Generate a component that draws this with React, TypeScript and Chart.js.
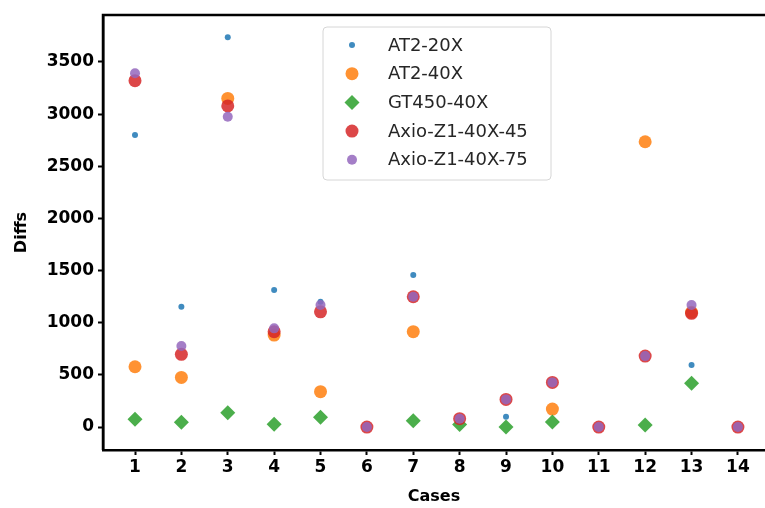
import React, { useEffect, useRef } from "react";
import { Chart, registerables } from "chart.js";

Chart.register(...registerables);

const cases = [1, 2, 3, 4, 5, 6, 7, 8, 9, 10, 11, 12, 13, 14];
const yTicks = [0, 500, 1000, 1500, 2000, 2500, 3000, 3500];

const seriesNames = ["AT2-20X", "AT2-40X", "GT450-40X", "Axio-Z1-40X-45", "Axio-Z1-40X-75"];

const at2_20x = [2800, 1153, 3736, 1313, 1201, null, 1457, null, 99, null, null, null, 594, null];
const at2_40x = [578, 476, 3150, 882, 339, null, 914, null, null, 172, null, 2735, 1100, null];
const gt450_40x = [74, 45, 137, 26, 93, null, 61, 25, 0, 48, null, 19, 419, null];
const axio_45 = [3320, 697, 3078, 914, 1105, 0, 1249, 80, 265, 428, 0, 680, 1090, 0];
const axio_75 = [3391, 777, 2975, 946, 1170, 0, 1249, 80, 265, 428, 0, 680, 1170, 0];

const seriesValues = [at2_20x, at2_40x, gt450_40x, axio_45, axio_75];
const seriesColors = [
  "rgba(31,119,180,0.85)",
  "rgba(255,127,14,0.85)",
  "rgba(44,160,44,0.85)",
  "rgba(214,39,40,0.85)",
  "rgba(148,103,189,0.85)",
];
const seriesStyles = ["circle", "circle", "rectRot", "circle", "circle"];
const seriesRadius = [3, 6.5, 7.5, 6.5, 5];

const W = 765;
const H = 508;

const legendPlugin = {
  id: "customLegendFrame",
  afterDraw(chart: any) {
    const { ctx, chartArea } = chart;
    ctx.save();
    ctx.strokeStyle = "#000";
    ctx.lineWidth = 2.5;
    ctx.beginPath();
    ctx.moveTo(chartArea.left, chartArea.bottom);
    ctx.lineTo(chartArea.left, chartArea.top);
    ctx.lineTo(chart.width, chartArea.top);
    ctx.stroke();
    const bx = 323, by = 27, bw = 228, bh = 153, r = 4;
    ctx.beginPath();
    ctx.moveTo(bx + r, by);
    ctx.lineTo(bx + bw - r, by);
    ctx.quadraticCurveTo(bx + bw, by, bx + bw, by + r);
    ctx.lineTo(bx + bw, by + bh - r);
    ctx.quadraticCurveTo(bx + bw, by + bh, bx + bw - r, by + bh);
    ctx.lineTo(bx + r, by + bh);
    ctx.quadraticCurveTo(bx, by + bh, bx, by + bh - r);
    ctx.lineTo(bx, by + r);
    ctx.quadraticCurveTo(bx, by, bx + r, by);
    ctx.closePath();
    ctx.fillStyle = "rgba(255,255,255,0.8)";
    ctx.fill();
    ctx.strokeStyle = "#d6d6d6";
    ctx.lineWidth = 1;
    ctx.stroke();
    ctx.font = '18px "DejaVu Sans"';
    ctx.textBaseline = "middle";
    ctx.textAlign = "left";
    seriesNames.forEach((name, i) => {
      const y = 45 + i * 28.7;
      const x = 352;
      ctx.fillStyle = seriesColors[i];
      const rad = seriesRadius[i];
      ctx.beginPath();
      if (seriesStyles[i] === "rectRot") {
        ctx.moveTo(x, y - rad);
        ctx.lineTo(x + rad, y);
        ctx.lineTo(x, y + rad);
        ctx.lineTo(x - rad, y);
        ctx.closePath();
      } else {
        ctx.arc(x, y, rad, 0, Math.PI * 2);
      }
      ctx.fill();
      ctx.fillStyle = "#262626";
      ctx.fillText(name, 388, y + 1);
    });
    ctx.restore();
  },
};

export default function App() {
  const canvasRef = useRef<HTMLCanvasElement | null>(null);

  useEffect(() => {
    if (!canvasRef.current) return;
    const datasets = seriesNames.map((name, i) => ({
      label: name,
      data: cases
        .map((c, j) => ({ x: c, y: seriesValues[i][j] }))
        .filter((p) => p.y !== null),
      backgroundColor: seriesColors[i],
      borderWidth: 0,
      pointStyle: seriesStyles[i],
      pointRadius: seriesRadius[i],
      order: 5 - i,
    }));
    const chart = new Chart(canvasRef.current, {
      type: "scatter",
      data: { datasets: datasets as any },
      options: {
        animation: false,
        responsive: false,
        devicePixelRatio: 1,
        layout: { autoPadding: false, padding: { top: 15, right: 0, left: 0, bottom: 0 } },
        plugins: { legend: { display: false }, tooltip: { enabled: false } },
        scales: {
          x: {
            type: "linear",
            min: 0.31,
            max: 14.584,
            afterBuildTicks: (s: any) => {
              s.ticks = cases.map((v) => ({ value: v }));
            },
            afterFit: (s: any) => {
              s.height = 58;
              s.paddingRight = 0;
              s.paddingLeft = 0;
            },
            grid: { drawOnChartArea: false, drawTicks: true, tickLength: 5, tickWidth: 2, color: "#000" },
            border: { display: true, color: "#000", width: 2.5 },
            ticks: {
              color: "#000",
              padding: 2,
              maxRotation: 0,
              autoSkip: false,
              font: { family: '"DejaVu Sans"', size: 17, weight: "bold" },
              callback: (v: any) => String(v),
            },
            title: {
              display: true,
              text: "Cases",
              color: "#000",
              padding: { top: 2, bottom: 2 },
              font: { family: '"DejaVu Sans"', size: 16, weight: "bold" },
            },
          },
          y: {
            type: "linear",
            min: -220,
            max: 3950,
            afterBuildTicks: (s: any) => {
              s.ticks = yTicks.map((v) => ({ value: v }));
            },
            afterFit: (s: any) => {
              s.width = 103;
              s.paddingTop = 0;
              s.paddingBottom = 0;
            },
            grid: { drawOnChartArea: false, drawTicks: true, tickLength: 5, tickWidth: 2, color: "#000" },
            border: { display: true, color: "#000", width: 2.5 },
            ticks: {
              color: "#000",
              padding: 4,
              autoSkip: false,
              font: { family: '"DejaVu Sans"', size: 17, weight: "bold" },
              callback: (v: any) => String(v),
            },
            title: {
              display: true,
              text: "Diffs",
              color: "#000",
              padding: { top: 12, bottom: 2 },
              font: { family: '"DejaVu Sans"', size: 16, weight: "bold" },
            },
          },
        },
      },
      plugins: [legendPlugin],
    });
    return () => chart.destroy();
  }, []);

  return (
    <div style={{ position: "fixed", left: 0, top: 0, width: W, height: H, overflow: "hidden", background: "#fff" }}>
      <canvas ref={canvasRef} width={W} height={H} style={{ display: "block", width: W, height: H }} />
    </div>
  );
}
